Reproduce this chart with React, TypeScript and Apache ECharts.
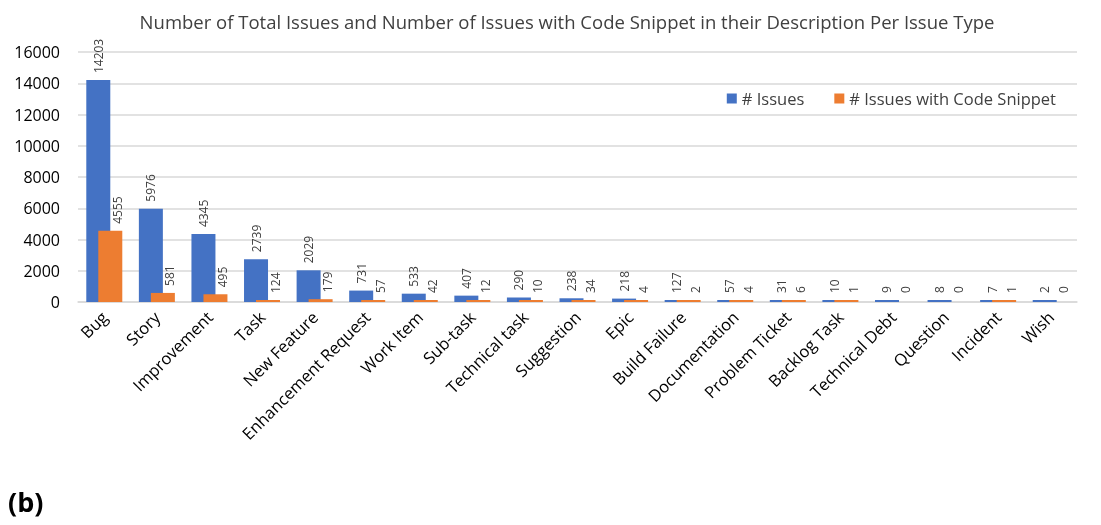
import React, { useEffect, useRef } from "react";
import * as echarts from "echarts";

const categories = [
  "Bug", "Story", "Improvement", "Task", "New Feature", "Enhancement Request",
  "Work Item", "Sub-task", "Technical task", "Suggestion", "Epic", "Build Failure",
  "Documentation", "Problem Ticket", "Backlog Task", "Technical Debt", "Question",
  "Incident", "Wish",
];
const issues = [14203, 5976, 4345, 2739, 2029, 731, 533, 407, 290, 238, 218, 127, 57, 31, 10, 9, 8, 7, 2];
const issuesWithSnippet = [4555, 581, 495, 124, 179, 57, 42, 12, 10, 34, 4, 2, 4, 6, 1, 0, 0, 1, 0];
const yTicks = [0, 2000, 4000, 6000, 8000, 10000, 12000, 14000, 16000];

const FONT = "'Open Sans', sans-serif";
const BLUE = "#4472C4";
const ORANGE = "#ED7D31";

export default function App() {
  const ref = useRef<HTMLDivElement>(null);
  useEffect(() => {
    if (!ref.current) return;
    const chart = echarts.init(ref.current, null, { renderer: "svg" });
    const mk = (arr: number[], color: string) =>
      arr.map((v) => ({
        value: v,
        itemStyle: { color: v === 0 ? "transparent" : color },
      }));
    const label = (offsetRight: number) => ({
      show: true,
      position: "top" as const,
      rotate: 90,
      align: "left" as const,
      verticalAlign: "middle" as const,
      distance: 7,
      offset: [0, offsetRight],
      fontFamily: FONT,
      fontSize: 12,
      color: "#404040",
    });
    chart.setOption({
      animation: false,
      title: {
        text: "Number of Total Issues and Number of Issues with Code Snippet in their Description Per Issue Type",
        left: 562,
        textAlign: "center",
        top: 7,
        textStyle: { fontFamily: FONT, fontSize: 18.5, fontWeight: "normal", color: "#404040" },
      },
      legend: {
        right: 40,
        top: 85,
        itemWidth: 10,
        itemHeight: 10,
        itemGap: 30,
        icon: "rect",
        textStyle: { fontFamily: FONT, fontSize: 16.5, color: "#404040" },
        data: ["# Issues", "# Issues with Code Snippet"],
      },
      grid: { left: 78, right: 24, top: 52, bottom: 223 },
      xAxis: {
        type: "category",
        data: categories,
        axisLine: { lineStyle: { color: "#D9D9D9", width: 1.5 } },
        axisTick: { show: false },
        axisLabel: {
          rotate: 45,
          interval: 0,
          margin: 12,
          fontFamily: FONT,
          fontSize: 16.5,
          color: "#000",
        },
      },
      yAxis: {
        type: "value",
        min: yTicks[0],
        max: yTicks[yTicks.length - 1],
        interval: 2000,
        axisLine: { show: false },
        axisTick: { show: false },
        splitLine: { lineStyle: { color: "#D9D9D9", width: 1.5 } },
        axisLabel: {
          margin: 18,
          fontFamily: FONT,
          fontSize: 16,
          color: "#000",
          formatter: (v: number) => String(v),
        },
      },
      series: [
        {
          name: "# Issues",
          type: "bar",
          data: mk(issues, BLUE),
          itemStyle: { color: BLUE },
          barWidth: 24,
          barGap: "-50%",
          barMinHeight: 2,
          label: label(0),
        },
        {
          name: "# Issues with Code Snippet",
          type: "bar",
          data: mk(issuesWithSnippet, ORANGE),
          itemStyle: { color: ORANGE },
          barWidth: 24,
          barGap: "-50%",
          barMinHeight: 2,
          label: label(7),
        },
      ],
      graphic: [
        {
          type: "text",
          left: 8,
          top: 488,
          style: { text: "(b)", fontFamily: FONT, fontSize: 27, fontWeight: "bold", fill: "#000" },
        },
      ],
    });
    return () => chart.dispose();
  }, []);
  return <div ref={ref} style={{ position: "fixed", left: 0, top: 0, width: 1101, height: 525 }} />;
}
